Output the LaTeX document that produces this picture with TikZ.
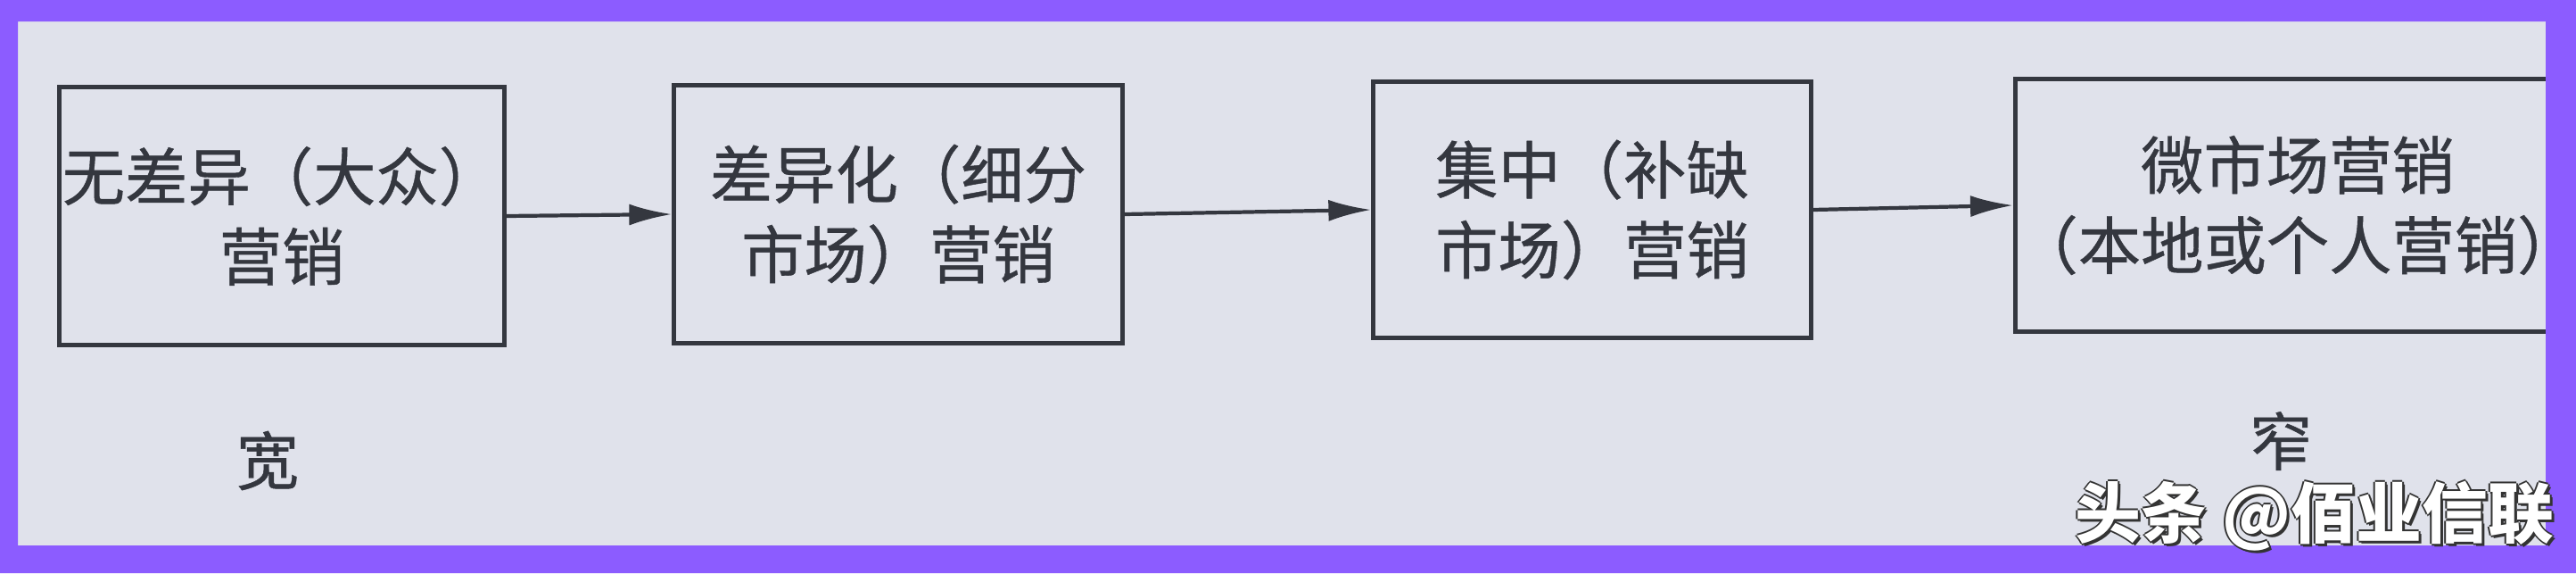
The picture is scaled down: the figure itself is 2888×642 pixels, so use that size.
\documentclass[tikz,border=0pt]{standalone}
\usepackage{fontspec}
\setmainfont{Noto Sans CJK SC}
\usepackage{xcolor}
\usetikzlibrary{arrows.meta, calc}

\definecolor{cornice}{HTML}{8C5CFF}
\definecolor{carta}{HTML}{E0E2EB}
\definecolor{inchiostro}{HTML}{34373F}

\begin{document}
\begin{tikzpicture}[x=0.01cm,y=-0.01cm,
    mktbox/.style={rectangle,draw=inchiostro,line width=1.4pt,inner sep=0pt,align=center,text=inchiostro,font=\fontsize{20}{25.5}\selectfont\addfontfeature{FakeBold=0.6}},
    freccia/.style={draw=inchiostro,line width=1.2pt,-{Latex[length=4.8mm,width=2.4mm]}},
    etichetta/.style={text=inchiostro,inner sep=0pt,font=\fontsize{20}{24}\selectfont\addfontfeature{FakeBold=0.6}},
    firma/.style={inner sep=0pt,font=\fontsize{21}{21}\selectfont\bfseries}]
    \useasboundingbox (0,0) rectangle (2888,642);

    % Sfondo pagina
    \fill[carta] (0,0) rectangle (2888,642);

    % Blocchi di marketing
    \node[mktbox,minimum width=4.99cm,minimum height=2.89cm] (indiff) at (316,242) {无差异（大众）\\营销};
    \node[mktbox,minimum width=5.02cm,minimum height=2.89cm] (differ) at (1007,240) {差异化（细分\\市场）营销};
    \node[mktbox,minimum width=4.90cm,minimum height=2.87cm] (concen) at (1785,235) {集中（补缺\\市场）营销};
    \node[mktbox,minimum width=6.10cm,minimum height=2.82cm] (micro) at (2576,230) {微市场营销\\（本地或个人营销）};

    % Frecce
    \draw[freccia] (indiff.east) -- (differ.west);
    \draw[freccia] (differ.east) -- (concen.west);
    \draw[freccia] (concen.east) -- (micro.west);

    % Ampio / stretto
    \node[etichetta] (ampio) at (300,516) {宽};
    \node[etichetta] (stretto) at (2557,494) {窄};

    % Cornice viola
    \fill[cornice,even odd rule] (0,0) rectangle (2888,642) (20,24) rectangle (2854,611);

    % Firma
    \foreach \dx/\dy [count=\i] in {-2/0,2/0,0/-2,0/2,3/3} {
        \node[firma,text=black!80] (ombra\i) at (2595+\dx,578+\dy) {头条 @佰业信联};
    }
    \node[firma,text=white] (autore) at (2595,578) {头条 @佰业信联};
\end{tikzpicture}
\end{document}
